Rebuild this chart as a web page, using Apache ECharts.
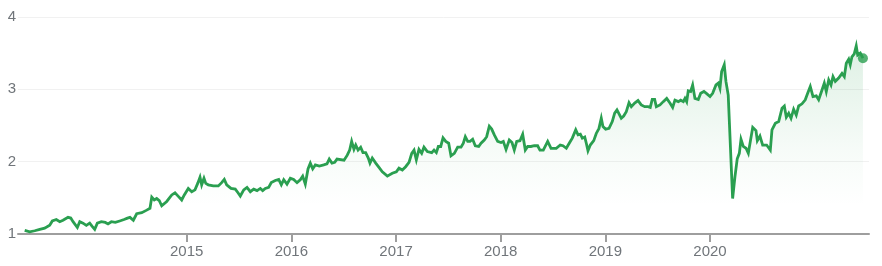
<!DOCTYPE html>
<html>
<head>
<meta charset="utf-8">
<script src="https://cdn.jsdelivr.net/npm/echarts@6/dist/echarts.min.js"></script>
<style>
html,body{margin:0;padding:0;background:#fff;}
#chart{width:882px;height:266px;}
</style>
</head>
<body>
<div id="chart"></div>
<script>
// x positions as decimal years
const yearPos = [
2013.452,2013.500,2013.548,2013.596,2013.643,2013.691,2013.716,2013.754,2013.787,2013.818,
2013.866,2013.892,2013.914,2013.955,2013.978,2014.009,2014.041,2014.073,2014.095,2014.121,
2014.146,2014.184,2014.222,2014.248,2014.280,2014.318,2014.360,2014.401,2014.434,2014.458,
2014.490,2014.522,2014.570,2014.618,2014.649,2014.666,2014.690,2014.713,2014.738,2014.761,
2014.809,2014.857,2014.888,2014.920,2014.952,2014.977,2015.015,2015.048,2015.079,2015.105,
2015.127,2015.143,2015.165,2015.182,2015.206,2015.254,2015.302,2015.334,2015.359,2015.382,
2015.423,2015.464,2015.490,2015.512,2015.545,2015.576,2015.608,2015.640,2015.672,2015.703,
2015.726,2015.751,2015.783,2015.808,2015.846,2015.879,2015.904,2015.927,2015.958,2015.990,
2016.022,2016.054,2016.085,2016.108,2016.133,2016.159,2016.181,2016.204,2016.229,2016.267,
2016.309,2016.340,2016.362,2016.388,2016.414,2016.436,2016.455,2016.503,2016.534,2016.557,
2016.576,2016.598,2016.615,2016.637,2016.662,2016.684,2016.710,2016.735,2016.751,2016.773,
2016.806,2016.837,2016.869,2016.917,2016.964,2017.003,2017.028,2017.060,2017.092,2017.124,
2017.150,2017.172,2017.194,2017.219,2017.245,2017.267,2017.299,2017.341,2017.363,2017.385,
2017.404,2017.427,2017.449,2017.475,2017.503,2017.525,2017.557,2017.589,2017.621,2017.643,
2017.662,2017.685,2017.707,2017.732,2017.757,2017.790,2017.812,2017.843,2017.866,2017.891,
2017.914,2017.939,2017.971,2018.003,2018.025,2018.051,2018.082,2018.108,2018.130,2018.153,
2018.184,2018.210,2018.235,2018.258,2018.289,2018.321,2018.353,2018.375,2018.407,2018.449,
2018.481,2018.500,2018.531,2018.569,2018.595,2018.627,2018.659,2018.684,2018.717,2018.739,
2018.761,2018.780,2018.803,2018.818,2018.834,2018.856,2018.889,2018.913,2018.939,2018.961,
2018.977,2019.003,2019.035,2019.066,2019.089,2019.111,2019.130,2019.152,2019.175,2019.200,
2019.226,2019.248,2019.280,2019.312,2019.343,2019.376,2019.407,2019.429,2019.448,2019.471,
2019.487,2019.522,2019.553,2019.586,2019.617,2019.643,2019.665,2019.697,2019.720,2019.745,
2019.761,2019.777,2019.792,2019.815,2019.834,2019.856,2019.888,2019.911,2019.942,2019.968,
2020.000,2020.025,2020.057,2020.079,2020.095,2020.111,2020.136,2020.152,2020.174,2020.216,
2020.238,2020.260,2020.280,2020.296,2020.318,2020.344,2020.366,2020.408,2020.439,2020.452,
2020.477,2020.503,2020.541,2020.560,2020.576,2020.592,2020.624,2020.656,2020.688,2020.710,
2020.729,2020.752,2020.774,2020.799,2020.824,2020.847,2020.879,2020.910,2020.933,2020.958,
2020.984,2021.015,2021.038,2021.070,2021.092,2021.111,2021.134,2021.156,2021.175,2021.197,
2021.229,2021.261,2021.283,2021.302,2021.325,2021.340,2021.356,2021.378,2021.397,2021.411,
2021.436,2021.461
];
const price = [
1.05,1.03,1.045,1.065,1.08,1.12,1.18,1.20,1.17,1.19,
1.23,1.22,1.17,1.09,1.17,1.15,1.12,1.15,1.11,1.065,
1.15,1.17,1.16,1.14,1.17,1.16,1.18,1.20,1.22,1.23,
1.19,1.28,1.295,1.33,1.355,1.51,1.47,1.49,1.46,1.39,
1.45,1.54,1.57,1.52,1.47,1.54,1.63,1.585,1.61,1.70,
1.785,1.68,1.77,1.70,1.68,1.665,1.665,1.71,1.755,1.68,
1.63,1.62,1.57,1.525,1.61,1.645,1.585,1.62,1.60,1.63,
1.60,1.63,1.645,1.71,1.74,1.755,1.68,1.75,1.69,1.77,
1.755,1.71,1.75,1.80,1.69,1.90,1.98,1.90,1.955,1.94,
1.955,1.97,2.035,1.98,1.99,2.035,2.02,2.02,2.09,2.16,
2.28,2.17,2.23,2.16,2.20,2.125,2.125,2.05,1.98,2.05,
1.98,1.92,1.86,1.80,1.84,1.86,1.91,1.885,1.93,1.99,
2.115,2.16,2.025,2.17,2.115,2.20,2.14,2.125,2.16,2.125,
2.21,2.21,2.33,2.28,2.255,2.08,2.115,2.20,2.20,2.255,
2.345,2.28,2.28,2.31,2.22,2.21,2.255,2.30,2.345,2.49,
2.45,2.37,2.28,2.265,2.28,2.17,2.30,2.265,2.16,2.28,
2.29,2.38,2.16,2.21,2.21,2.22,2.22,2.16,2.16,2.28,
2.185,2.16,2.185,2.23,2.22,2.185,2.265,2.325,2.44,2.37,
2.38,2.325,2.34,2.255,2.15,2.23,2.29,2.39,2.46,2.60,
2.485,2.45,2.46,2.555,2.67,2.715,2.705,2.60,2.63,2.69,
2.815,2.76,2.81,2.845,2.785,2.76,2.76,2.75,2.86,2.86,
2.76,2.785,2.83,2.875,2.81,2.75,2.85,2.83,2.85,2.83,
2.875,2.83,2.98,2.97,3.06,2.875,2.86,2.945,2.97,2.94,
2.90,2.945,3.06,3.085,3.015,3.245,3.34,3.11,2.92,1.49,
1.79,2.04,2.115,2.31,2.21,2.185,2.115,2.475,2.43,2.29,
2.355,2.23,2.23,2.23,2.16,2.44,2.53,2.555,2.74,2.77,
2.615,2.67,2.60,2.725,2.645,2.77,2.80,2.855,2.945,3.04,
2.90,2.91,2.855,2.99,3.085,2.97,3.13,3.06,3.175,3.11,
3.155,3.22,3.175,3.36,3.415,3.34,3.45,3.49,3.60,3.475,
3.50,3.43
];
const yearTicks = [2015, 2016, 2017, 2018, 2019, 2020];
const yTicks = [1, 2, 3, 4];

const lineData = yearPos.map((x, i) => [x, price[i]]);
const lastPoint = [[yearPos[yearPos.length - 1], price[price.length - 1]]];
const green = '#2a9f50';

const chart = echarts.init(document.getElementById('chart'), null, {renderer: 'canvas'});
chart.setOption({
  animation: false,
  backgroundColor: '#ffffff',
  grid: {left: 18, right: 13, top: 17, bottom: 32, containLabel: false},
  xAxis: {
    type: 'value',
    min: 2013.388,
    max: 2021.519,
    splitLine: {show: false},
    axisLine: {show: true, lineStyle: {color: '#9e9e9e', width: 2}},
    axisTick: {show: true, customValues: yearTicks, length: 8, lineStyle: {color: '#9e9e9e', width: 2}},
    axisLabel: {
      customValues: yearTicks,
      formatter: v => String(Math.round(v)),
      color: '#70757a',
      fontSize: 15,
      fontFamily: 'Liberation Sans, Arial, sans-serif',
      margin: 10
    }
  },
  yAxis: {
    type: 'value',
    min: yTicks[0],
    max: yTicks[yTicks.length - 1],
    interval: 1,
    axisLine: {show: false},
    axisTick: {show: false},
    splitLine: {show: true, lineStyle: {color: '#f1f1f1', width: 1}},
    axisLabel: {
      color: '#70757a',
      fontSize: 15,
      fontFamily: 'Liberation Sans, Arial, sans-serif',
      margin: 2
    }
  },
  series: [
    {
      type: 'line',
      data: lineData,
      showSymbol: false,
      lineStyle: {color: green, width: 2.8, join: 'miter'},
      areaStyle: {
        color: new echarts.graphic.LinearGradient(0, 0, 0, 1, [
          {offset: 0, color: 'rgba(42,159,80,0.22)'},
          {offset: 0.55, color: 'rgba(42,159,80,0.06)'},
          {offset: 0.85, color: 'rgba(42,159,80,0.0)'},
          {offset: 1, color: 'rgba(42,159,80,0)'}
        ])
      },
      z: 2
    },
    {
      type: 'scatter',
      data: lastPoint,
      symbol: 'circle',
      symbolSize: 10,
      itemStyle: {color: green},
      z: 3
    }
  ]
});
</script>
</body>
</html>
